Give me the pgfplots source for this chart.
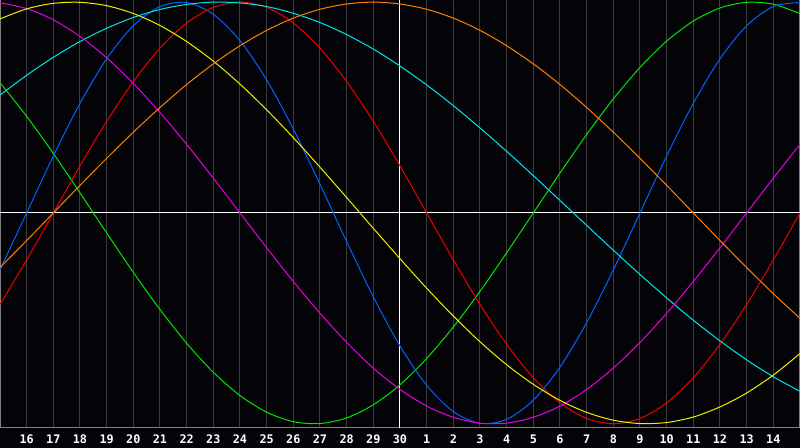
\documentclass[border=0pt]{standalone}
\usepackage{pgfplots}
\usepackage{pgfplotstable}
\usepackage{fontspec}
\pgfplotsset{compat=1.18}
\newfontfamily\labfont{DejaVu Sans Mono}

\definecolor{bgcol}{RGB}{4,3,8}
\definecolor{gridcol}{RGB}{60,60,64}
\definecolor{framecol}{RGB}{128,128,128}
\definecolor{cgreen}{RGB}{0,230,0}
\definecolor{cblue}{RGB}{0,100,255}
\definecolor{cred}{RGB}{240,0,0}
\definecolor{ccyan}{RGB}{0,230,230}
\definecolor{cmagenta}{RGB}{230,0,230}
\definecolor{cyellow}{RGB}{240,240,0}
\definecolor{corange}{RGB}{255,128,0}

% day index t (0 = left edge), one column per cycle
\pgfplotstableread{
t  blue    red     green   magenta  yellow   orange   cyan
0  -0.270  -0.434   0.618   0.997    0.920   -0.259    0.559
1   0.000  -0.223   0.458   0.969    0.968   -0.131    0.653
2   0.270   0.000   0.282   0.916    0.994    0.000    0.738
3   0.520   0.223   0.095   0.837    0.999    0.131    0.813
4   0.731   0.434  -0.095   0.736    0.983    0.259    0.876
5   0.888   0.623  -0.282   0.614    0.946    0.383    0.927
6   0.979   0.782  -0.458   0.476    0.889    0.500    0.965
7   0.998   0.901  -0.618   0.325    0.813    0.609    0.989
8   0.942   0.975  -0.756   0.165    0.720    0.707    1.000
9   0.817   1.000  -0.866   0.000    0.611    0.793    0.996
10  0.631   0.975  -0.945  -0.165    0.489    0.866    0.979
11  0.398   0.901  -0.990  -0.325    0.357    0.924    0.947
12  0.136   0.782  -0.999  -0.476    0.217    0.966    0.903
13 -0.136   0.623  -0.972  -0.614    0.073    0.991    0.846
14 -0.398   0.434  -0.910  -0.736   -0.073    1.000    0.777
15 -0.631   0.223  -0.815  -0.837   -0.217    0.991    0.697
16 -0.817   0.000  -0.690  -0.916   -0.357    0.966    0.607
17 -0.942  -0.223  -0.541  -0.969   -0.489    0.924    0.509
18 -0.998  -0.434  -0.372  -0.997   -0.611    0.866    0.403
19 -0.979  -0.623  -0.189  -0.997   -0.720    0.793    0.292
20 -0.888  -0.782   0.000  -0.969   -0.813    0.707    0.177
21 -0.731  -0.901   0.189  -0.916   -0.889    0.609    0.059
22 -0.520  -0.975   0.372  -0.837   -0.946    0.500   -0.059
23 -0.270  -1.000   0.541  -0.736   -0.983    0.383   -0.177
24  0.000  -0.975   0.690  -0.614   -0.999    0.259   -0.292
25  0.270  -0.901   0.815  -0.476   -0.994    0.131   -0.403
26  0.520  -0.782   0.910  -0.325   -0.968    0.000   -0.509
27  0.731  -0.623   0.972  -0.165   -0.920   -0.131   -0.607
28  0.888  -0.434   0.999   0.000   -0.854   -0.259   -0.697
29  0.979  -0.223   0.990   0.165   -0.769   -0.383   -0.777
30  0.998   0.000   0.945   0.325   -0.667   -0.500   -0.846
}\cycles

\begin{document}
\begin{tikzpicture}
\fill[bgcol] (0,-10pt) rectangle (400pt,214pt);
\begin{axis}[
  scale only axis,
  width=400pt, height=214pt,
  xmin=0, xmax=30,
  ymin=-1.02, ymax=1.01,
  axis background/.style={fill=bgcol},
  axis line style={framecol, line width=0.5pt},
  major tick length=0pt,
  xtick={1,...,29},
  xticklabels={16,17,18,19,20,21,22,23,24,25,26,27,28,29,30,1,2,3,4,5,6,7,8,9,10,11,12,13,14},
  xticklabel style={text=white, font=\labfont\bfseries\fontsize{5.9}{6.5}\selectfont,
    inner sep=0pt, anchor=north, yshift=-3.2pt},
  ytick=\empty,
  xmajorgrids=true,
  major grid style={gridcol, line width=0.5pt},
  extra x ticks={15},
  extra x tick labels={},
  extra x tick style={grid=major, major grid style={white, line width=0.5pt}},
  extra y ticks={0},
  extra y tick labels={},
  extra y tick style={grid=major, major grid style={white, line width=0.5pt}},
  every axis plot/.append style={line width=0.5pt, smooth, no markers},
]
\addplot[cgreen]   table[x=t, y=green]   {\cycles};
\addplot[cblue]    table[x=t, y=blue]    {\cycles};
\addplot[cred]     table[x=t, y=red]     {\cycles};
\addplot[ccyan]    table[x=t, y=cyan]    {\cycles};
\addplot[cmagenta] table[x=t, y=magenta] {\cycles};
\addplot[cyellow]  table[x=t, y=yellow]  {\cycles};
\addplot[corange]  table[x=t, y=orange]  {\cycles};
\end{axis}
\pgfresetboundingbox
\path[use as bounding box] (0,-10pt) rectangle (400pt,214pt);
\end{tikzpicture}
\end{document}
